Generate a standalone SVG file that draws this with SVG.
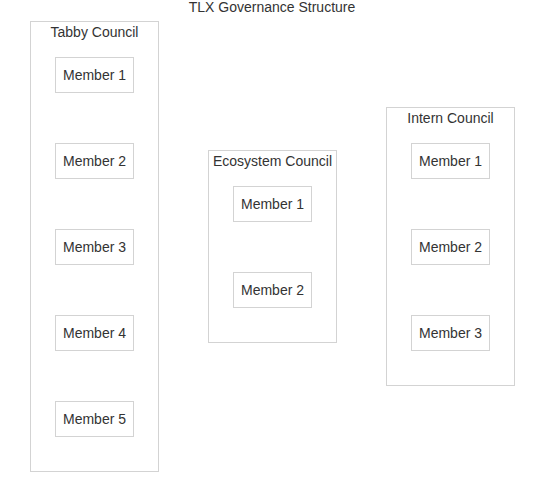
<svg xmlns="http://www.w3.org/2000/svg" width="544" height="490" viewBox="0 0 544 490">
<style>
text{font-family:"Liberation Sans",Arial,sans-serif;font-size:14px;fill:#333;text-anchor:middle;dominant-baseline:central}
.cl{fill:#fff;stroke:#d3d3d3;stroke-width:1}
.nd{fill:#fff;stroke:#d3d3d3;stroke-width:1}
</style>
<rect width="544" height="490" fill="#fff"/>
<text x="272" y="7">TLX Governance Structure</text>
<g id="tabby">
<rect class="cl" x="30.5" y="21.5" width="128" height="450"/>
<text x="94.5" y="32">Tabby Council</text>
</g>
<g id="tabby_m1"><rect class="nd" x="55.5" y="57.5" width="78" height="35"/><text x="94.5" y="75">Member 1</text></g>
<g id="tabby_m2"><rect class="nd" x="55.5" y="143.5" width="78" height="35"/><text x="94.5" y="161">Member 2</text></g>
<g id="tabby_m3"><rect class="nd" x="55.5" y="229.5" width="78" height="35"/><text x="94.5" y="247">Member 3</text></g>
<g id="tabby_m4"><rect class="nd" x="55.5" y="315.5" width="78" height="35"/><text x="94.5" y="333">Member 4</text></g>
<g id="tabby_m5"><rect class="nd" x="55.5" y="401.5" width="78" height="35"/><text x="94.5" y="419">Member 5</text></g>
<g id="eco">
<rect class="cl" x="208.5" y="150.5" width="128" height="192"/>
<text x="272.5" y="161">Ecosystem Council</text>
</g>
<g id="eco_m1"><rect class="nd" x="233.5" y="186.5" width="78" height="35"/><text x="272.5" y="204">Member 1</text></g>
<g id="eco_m2"><rect class="nd" x="233.5" y="272.5" width="78" height="35"/><text x="272.5" y="290">Member 2</text></g>
<g id="intern">
<rect class="cl" x="386.5" y="107.5" width="128" height="278"/>
<text x="450.5" y="118">Intern Council</text>
</g>
<g id="intern_m1"><rect class="nd" x="411.5" y="143.5" width="78" height="35"/><text x="450.5" y="161">Member 1</text></g>
<g id="intern_m2"><rect class="nd" x="411.5" y="229.5" width="78" height="35"/><text x="450.5" y="247">Member 2</text></g>
<g id="intern_m3"><rect class="nd" x="411.5" y="315.5" width="78" height="35"/><text x="450.5" y="333">Member 3</text></g>
<g id="connectors"></g>
</svg>
